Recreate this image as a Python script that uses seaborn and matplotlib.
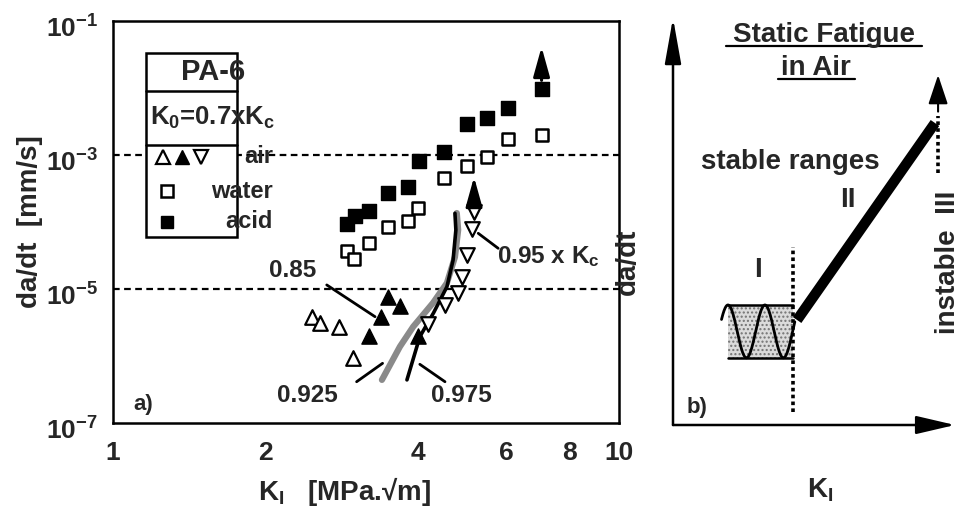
import numpy as np
import pandas as pd
import matplotlib
matplotlib.use("Agg")
import matplotlib.pyplot as plt
import matplotlib.transforms as mtrans
import seaborn as sns
from matplotlib.patches import Rectangle
from matplotlib.ticker import FixedLocator, FuncFormatter, LogLocator, NullFormatter, NullLocator

# ---------------- data ----------------
acid_K = [2.90, 3.01, 3.20, 3.50, 3.83, 4.03, 4.50, 5.00, 5.49, 6.03, 7.03]
acid_v = [9.2e-5, 1.23e-4, 1.45e-4, 2.74e-4, 3.30e-4, 8.1e-4, 1.12e-3, 2.87e-3, 3.60e-3, 5.08e-3, 9.6e-3]

water_K = [2.90, 3.00, 3.21, 3.50, 3.83, 4.01, 4.51, 5.00, 5.49, 6.03, 7.03]
water_v = [3.73e-5, 2.80e-5, 4.9e-5, 8.5e-5, 1.03e-4, 1.60e-4, 4.5e-4, 6.85e-4, 9.4e-4, 1.72e-3, 1.99e-3]

air_open_up_K = [2.47, 2.56, 2.80, 2.98]
air_open_up_v = [3.78e-6, 3.14e-6, 2.73e-6, 9.2e-7]

air_filled_K = [3.20, 3.39, 3.50, 3.69, 4.01]
air_filled_v = [1.99e-6, 3.86e-6, 7.5e-6, 5.6e-6, 1.99e-6]

air_open_down_K = [4.20, 4.53, 4.81, 4.89, 5.00, 5.12, 5.17]
air_open_down_v = [3.0e-6, 5.8e-6, 8.6e-6, 1.53e-5, 3.2e-5, 7.9e-5, 1.39e-4]

curve_0925_K = [3.40, 3.69, 3.92, 4.29, 4.57, 4.74, 4.81, 4.78]
curve_0925_v = [4.4e-7, 1.38e-6, 2.74e-6, 6.2e-6, 1.23e-5, 3.0e-5, 7.6e-5, 1.36e-4]

curve_0975_K = [3.81, 4.04, 4.30, 4.57, 4.70, 4.76, 4.74]
curve_0975_v = [4.4e-7, 1.94e-6, 4.4e-6, 1.08e-5, 2.7e-5, 7.6e-5, 1.35e-4]

# upward "runaway" arrows: (K, from, to)
arrow_K = [7.03, 5.17]
arrow_from = [1.3e-2, 2.0e-4]
arrow_to = [4.1e-2, 4.7e-4]

xtick_vals = [1, 2, 3, 4, 5, 6, 7, 8, 9, 10]
xtick_labels = ["1", "2", "", "4", "", "6", "", "8", "", "10"]
ytick_exps = [-7, -6, -5, -4, -3, -2, -1]
ytick_shown = [-7, -5, -3, -1]
guide_levels = [1e-3, 1e-5]

# ---------------- style ----------------
sns.set_theme(style="white")
plt.rcParams["font.family"] = ["Liberation Sans", "DejaVu Sans"]
plt.rcParams["font.weight"] = "bold"
plt.rcParams["mathtext.fontset"] = "custom"
for k in ["rm", "it", "bf", "sf"]:
    plt.rcParams["mathtext." + k] = "Liberation Sans:bold"
plt.rcParams["axes.linewidth"] = 1.6

W, H = 964, 513
fig = plt.figure(figsize=(W / 100, H / 100), dpi=100)


def px_rect(l, t, r, b):
    return [l / W, 1 - b / H, (r - l) / W, (b - t) / H]


ax = fig.add_axes(px_rect(113, 21, 619, 423))
ax.set_xscale("log")
ax.set_yscale("log")
ax.set_xlim(1, 10)
ax.set_ylim(1e-7, 1e-1)

for lvl in guide_levels:
    ax.axhline(lvl, color="black", lw=1.6, ls=(0, (3, 2)), zorder=1)

# curves
sns.lineplot(x=curve_0925_K, y=curve_0925_v, sort=False, estimator=None, ax=ax,
             color="#8a8a8a", lw=4.5, zorder=2)
sns.lineplot(x=curve_0975_K, y=curve_0975_v, sort=False, estimator=None, ax=ax,
             color="black", lw=2.6, zorder=3)

# markers
sns.scatterplot(x=acid_K, y=acid_v, marker="s", s=95, color="black", edgecolor="black",
                linewidth=1, ax=ax, zorder=4, legend=False)
sns.scatterplot(x=water_K, y=water_v, marker="s", s=85, color="white", edgecolor="black",
                linewidth=1.8, ax=ax, zorder=4, legend=False)
sns.scatterplot(x=air_open_up_K, y=air_open_up_v, marker="^", s=110, color="white",
                edgecolor="black", linewidth=1.6, ax=ax, zorder=4, legend=False)
sns.scatterplot(x=air_filled_K, y=air_filled_v, marker="^", s=120, color="black",
                edgecolor="black", linewidth=1, ax=ax, zorder=4, legend=False)
sns.scatterplot(x=air_open_down_K, y=air_open_down_v, marker="v", s=110, color="white",
                edgecolor="black", linewidth=1.6, ax=ax, zorder=4, legend=False)

for k, a, b in zip(arrow_K, arrow_from, arrow_to):
    ax.annotate("", xy=(k, b), xytext=(k, a),
                arrowprops=dict(arrowstyle="-|>,head_length=0.9,head_width=0.25",
                                mutation_scale=20, lw=2.2, color="black",
                                shrinkA=0, shrinkB=0), zorder=5)

# ticks
ax.xaxis.set_major_locator(FixedLocator(xtick_vals))
ax.xaxis.set_major_formatter(FuncFormatter(lambda v, p: xtick_labels[xtick_vals.index(int(round(v)))]
                                           if int(round(v)) in xtick_vals else ""))
ax.xaxis.set_minor_locator(NullLocator())
ax.yaxis.set_major_locator(FixedLocator([10.0 ** e for e in ytick_exps]))
ax.yaxis.set_major_formatter(FuncFormatter(
    lambda v, p: (r"$10^{%d}$" % int(round(np.log10(v)))) if int(round(np.log10(v))) in ytick_shown else ""))
ax.yaxis.set_minor_locator(LogLocator(base=10, subs=np.arange(2, 10)))
ax.yaxis.set_minor_formatter(NullFormatter())
ax.tick_params(axis="x", which="major", direction="in", length=7, width=1.5, labelsize=19,
               pad=13, top=False)
ax.tick_params(axis="y", which="major", direction="in", length=8, width=1.5, labelsize=19,
               pad=11, right=False)
ax.tick_params(axis="y", which="minor", direction="in", length=4.5, width=1.2, right=False)
for sp in ax.spines.values():
    sp.set_color("black")
    sp.set_linewidth(1.8)

# legend box (axes fraction)
ax.add_patch(Rectangle((0.0652, 0.4627), 0.1799, 0.9200 - 0.4627, transform=ax.transAxes,
                       facecolor="white", edgecolor="black", lw=1.8, zorder=6))
for yy in [0.8266, 0.6915]:
    ax.plot([0.0652, 0.2451], [yy, yy], transform=ax.transAxes, color="black", lw=1.8, zorder=7)
ax.text(0.1976, 0.8731, "PA-6", transform=ax.transAxes, ha="center", va="center",
        fontsize=21, fontweight="bold", zorder=8)
ax.text(0.1976, 0.760, r"K$_{0}$=0.7xK$_{c}$", transform=ax.transAxes, ha="center", va="center",
        fontsize=18.5, fontweight="bold", zorder=8)
leg_rows = [("air", 0.6617), ("water", 0.5771), ("acid", 0.5000)]
for name, yy in leg_rows:
    ax.text(0.3162, yy, name, transform=ax.transAxes, ha="right", va="center",
            fontsize=17, fontweight="bold", zorder=8)
# legend symbols
ax.plot([0.0988], [0.6617], marker="^", ms=9.5, mfc="white", mec="black", mew=1.6,
        transform=ax.transAxes, zorder=8, ls="none")
ax.plot([0.1364], [0.6617], marker="^", ms=10, mfc="black", mec="black", mew=1,
        transform=ax.transAxes, zorder=8, ls="none")
ax.plot([0.1739], [0.6617], marker="v", ms=9.5, mfc="white", mec="black", mew=1.6,
        transform=ax.transAxes, zorder=8, ls="none")
ax.plot([0.1067], [0.5771], marker="s", ms=8.5, mfc="white", mec="black", mew=1.8,
        transform=ax.transAxes, zorder=8, ls="none")
ax.plot([0.1067], [0.5000], marker="s", ms=9, mfc="black", mec="black", mew=1,
        transform=ax.transAxes, zorder=8, ls="none")

# annotations
ann_kw = dict(fontsize=17.5, fontweight="bold", ha="center", va="center", zorder=8)
line_kw = dict(arrowstyle="-", lw=2, color="black", shrinkA=0, shrinkB=0)
ax.text(2.26, 1.92e-5, "0.85", **ann_kw)
ax.annotate("", xy=(3.295, 3.86e-6), xytext=(2.645, 1.15e-5), arrowprops=line_kw)
ax.text(2.42, 2.53e-7, "0.925", **ann_kw)
ax.annotate("", xy=(3.41, 7.78e-7), xytext=(3.03, 4.13e-7), arrowprops=line_kw)
ax.text(4.87, 2.53e-7, "0.975", **ann_kw)
ax.annotate("", xy=(4.04, 7.52e-7), xytext=(4.53, 4.13e-7), arrowprops=line_kw)
ax.text(5.74, 3.0e-5, r"0.95 x K$_{c}$", fontsize=17.5, fontweight="bold", ha="left",
        va="center", zorder=8)
ax.annotate("", xy=(5.27, 6.78e-5), xytext=(5.77, 4.05e-5), arrowprops=line_kw)
ax.text(0.059, 0.045, "a)", transform=ax.transAxes, fontsize=16, fontweight="bold",
        ha="center", va="center")

fig.text(30 / W, 1 - 222 / H, "da/dt  [mm/s]", rotation=90, ha="center", va="center",
         fontsize=20, fontweight="bold")
fig.text(345 / W, 1 - 491 / H, "K$_{I}$   [MPa.\u221am]", ha="center", va="center",
         fontsize=20, fontweight="bold")

# ---------------- right panel: schematic ----------------
ax2 = fig.add_axes(px_rect(673, 18, 955, 425))
ax2.set_xlim(0, 1)
ax2.set_ylim(0, 1)
ax2.axis("off")

ax2.annotate("", xy=(0, 1.0), xytext=(0, 0), xycoords="axes fraction",
             arrowprops=dict(arrowstyle="-|>,head_length=1.4,head_width=0.25", mutation_scale=20,
                             lw=1.8, color="black", shrinkA=0, shrinkB=0), annotation_clip=False)
ax2.annotate("", xy=(1.0, 0), xytext=(0, 0), xycoords="axes fraction",
             arrowprops=dict(arrowstyle="-|>,head_length=1.2,head_width=0.28", mutation_scale=20,
                             lw=1.8, color="black", shrinkA=0, shrinkB=0), annotation_clip=False)

# region I
box_u = [0.195, 0.426]
box_v = [0.165, 0.295]
ax2.fill_between(box_u, box_v[0], box_v[1], facecolor="0.86", hatch="....", edgecolor="0.45",
                 linewidth=0, zorder=1)
for vv in box_v:
    ax2.plot(box_u, [vv, vv], color="black", lw=1.8, zorder=3)
su = np.linspace(0.172, 0.432, 200)
ax2.plot(su, 0.23 + 0.065 * np.cos(2 * np.pi * (su - 0.326) / 0.131), color="black", lw=2,
         zorder=3)
ax2.plot([0.426, 0.426], [0.032, 0.437], color="black", lw=2.6, ls=(0, (1, 0.9)), zorder=4)

# region II
ax2.plot([0.44, 0.929], [0.258, 0.742], color="black", lw=7.5, solid_capstyle="butt", zorder=4)
ax2.plot([0.94, 0.94], [0.619, 0.76], color="black", lw=2.6, ls=(0, (1, 0.9)), zorder=4)
ax2.annotate("", xy=(0.94, 0.86), xytext=(0.94, 0.77),
             arrowprops=dict(arrowstyle="-|>,head_length=0.9,head_width=0.3", mutation_scale=20,
                             lw=1.5, color="black", shrinkA=0, shrinkB=0))

tk = dict(fontsize=20, fontweight="bold", ha="center", va="center")
ax2.text(0.535, 0.958, "Static Fatigue", **tk)
ax2.plot([0.188, 0.883], [0.931, 0.931], color="black", lw=1.6)
ax2.text(0.508, 0.877, "in Air", **tk)
ax2.plot([0.372, 0.645], [0.850, 0.850], color="black", lw=1.6)
ax2.text(0.415, 0.646, "stable ranges", **tk)
ax2.text(0.621, 0.553, "II", **tk)
ax2.text(0.301, 0.381, "I", **tk)
ax2.text(0.975, 0.40, "instable  III", rotation=90, **tk)
ax2.text(-0.16, 0.40, "da/dt", rotation=90, **tk)
ax2.text(0.521, -0.16, r"K$_{I}$", **tk)
ax2.text(0.085, 0.044, "b)", fontsize=16, fontweight="bold", ha="center", va="center")

# shift y tick labels slightly downward (as in the reference)
fig.canvas.draw()
shift = mtrans.ScaledTranslation(0, -5 / 100, fig.dpi_scale_trans)
for lab in ax.get_yticklabels():
    lab.set_transform(lab.get_transform() + shift)

fig.savefig("out.png", dpi=100)
